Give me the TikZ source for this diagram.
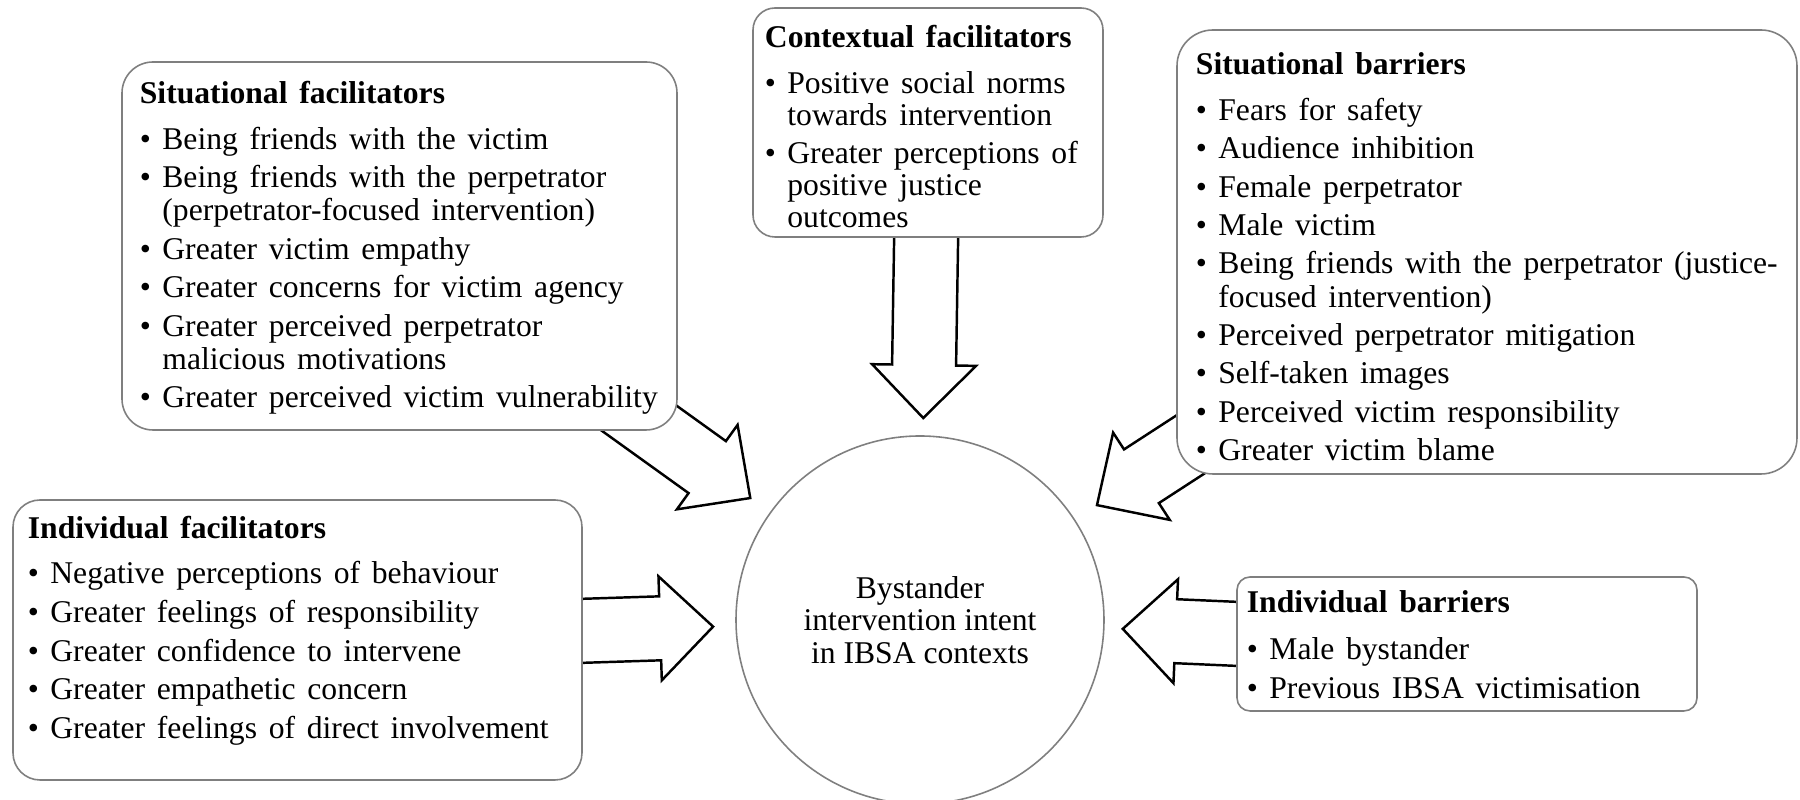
\documentclass[tikz,border=0pt]{standalone}
\usepackage{fontspec}
\setmainfont{Liberation Serif}
\usetikzlibrary{positioning,calc,backgrounds}
\definecolor{cEdge}{HTML}{7F7F7F}
\definecolor{cInk}{HTML}{000000}
\tikzset{
  frame/.style={rectangle,draw=cEdge,line width=0.45pt,fill=white,inner sep=0pt},
  hub/.style={circle,draw=cEdge,line width=0.45pt,fill=white,inner sep=0pt,minimum size=3.68cm,align=center,font=\fontsize{9}{9.25}\selectfont},
  txt/.style={anchor=north west,inner sep=0pt,text width=7cm,align=left,text=cInk},
  fat/.style={draw=cInk,line width=0.7pt,fill=white,line join=miter},
}
% leading and gap between bullets, per box
\newcommand\setleading[2]{\fontsize{9}{#1}\selectfont\setlength\parskip{#2}}
\newcommand\ttl[2][0pt]{\noindent\textbf{#2}\par\vspace{#1}}
\newcommand\itm{\par\hangindent=6.4pt\hangafter=1\noindent\makebox[6.4pt][l]{\textbullet}}
% hollow block arrow from box #1 towards the hub #2, tip #3 off its centre
\newcommand\blockarrow[3]{%
  \coordinate (tip) at ($(#2.center)!#3!(#1.center)$);
  \coordinate (neck) at ($(tip)!0.53cm!(#1.center)$);
  \draw[fat] ($(#1.center)!0.32cm!90:(tip)$) -- ($(neck)!0.32cm!90:(tip)$)
    -- ($(neck)!0.52cm!90:(tip)$) -- (tip) -- ($(neck)!0.52cm!-90:(tip)$)
    -- ($(neck)!0.32cm!-90:(tip)$) -- ($(#1.center)!0.32cm!-90:(tip)$) -- cycle;}

\begin{document}
\begin{tikzpicture}
  \useasboundingbox (0,0) rectangle (18,8);

  % boxes
  \node[frame,rounded corners=0.31cm,minimum width=5.55cm,minimum height=3.68cm] (sitfac) at (3.995,5.54) {};
  \node[frame,rounded corners=0.22cm,minimum width=3.50cm,minimum height=2.29cm] (ctxfac) at (9.28,6.775) {};
  \node[frame,rounded corners=0.36cm,minimum width=6.20cm,minimum height=4.44cm] (sitbar) at (14.87,5.48) {};
  \node[frame,rounded corners=0.27cm,minimum width=5.69cm,minimum height=2.80cm] (indfac) at (2.975,1.60) {};
  \node[frame,rounded corners=0.13cm,minimum width=4.60cm,minimum height=1.34cm] (indbar) at (14.67,1.56) {};
  \node[hub] (core) at (9.20,1.80) {Bystander\\intervention intent\\in IBSA contexts};

  % box contents
  \node[txt,below right=0.19cm and 0.18cm of sitfac.north west] (sitfac-t) {\setleading{9.2pt}{1.85pt}%
    \ttl[2pt]{Situational facilitators}
    \itm Being friends with the victim
    \itm Being friends with the perpetrator\newline(perpetrator-focused intervention)
    \itm Greater victim empathy
    \itm Greater concerns for victim agency
    \itm Greater perceived perpetrator\newline malicious motivations
    \itm Greater perceived victim vulnerability\par};
  \node[txt,below right=0.175cm and 0.12cm of ctxfac.north west] (ctxfac-t) {\setleading{9.1pt}{1.65pt}%
    \ttl[2.3pt]{Contextual facilitators}
    \itm Positive social norms\newline towards intervention
    \itm Greater perceptions of\newline positive justice\newline outcomes\par};
  \node[txt,below right=0.23cm and 0.19cm of sitbar.north west] (sitbar-t) {\setleading{9.5pt}{1.4pt}%
    \ttl[2.1pt]{Situational barriers}
    \itm Fears for safety
    \itm Audience inhibition
    \itm Female perpetrator
    \itm Male victim
    \itm Being friends with the perpetrator (justice-\newline focused intervention)
    \itm Perceived perpetrator mitigation
    \itm Self-taken images
    \itm Perceived victim responsibility
    \itm Greater victim blame\par};
  \node[txt,below right=0.16cm and 0.15cm of indfac.north west] (indfac-t) {\setleading{9.5pt}{1.5pt}%
    \ttl[2pt]{Individual facilitators}
    \itm Negative perceptions of behaviour
    \itm Greater feelings of responsibility
    \itm Greater confidence to intervene
    \itm Greater empathetic concern
    \itm Greater feelings of direct involvement\par};
  \node[txt,below right=0.14cm and 0.10cm of indbar.north west] (indbar-t) {\setleading{9.5pt}{1.7pt}%
    \ttl[2pt]{Individual barriers}
    \itm Male bystander
    \itm Previous IBSA victimisation\par};

  % arrows run behind the boxes
  \begin{pgfonlayer}{background}
    \foreach \s/\d in {sitfac/2.09cm,ctxfac/2.02cm,sitbar/2.11cm,indfac/2.07cm,indbar/2.03cm}
      \blockarrow{\s}{core}{\d};
  \end{pgfonlayer}
\end{tikzpicture}
\end{document}
